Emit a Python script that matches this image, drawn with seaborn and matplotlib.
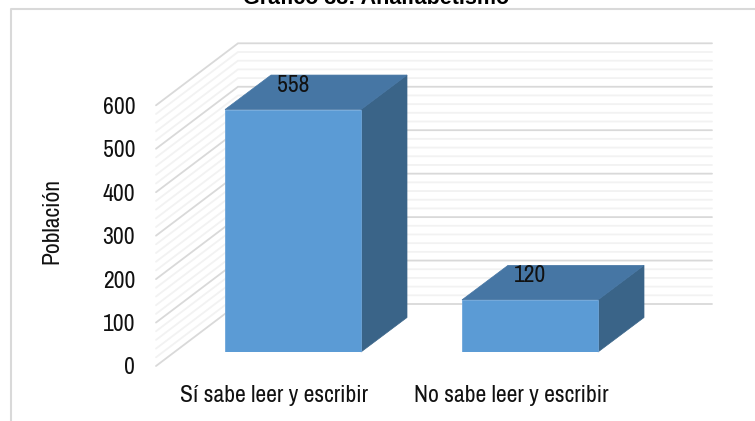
import matplotlib
matplotlib.use("Agg")
import matplotlib.pyplot as plt
from matplotlib import font_manager as fm
from matplotlib.lines import Line2D
from matplotlib.patches import Polygon
import pandas as pd
import seaborn as sns

categories = ["Sí sabe leer y escribir", "No sabe leer y escribir"]
values = [558, 120]
ticks = [0, 100, 200, 300, 400, 500, 600]
minor_ticks = [v for v in range(0, 601, 20)]
title = "Gráfico 38: Analfabetismo"
ylabel = "Población"

W, H = 755, 421
sns.set_theme(style="white")
names = {f.name for f in fm.fontManager.ttflist}
NARROW = [n for n in ("Archivo Narrow", "Liberation Sans Narrow", "Liberation Sans") if n in names]
plt.rcParams["font.family"] = NARROW + ["DejaVu Sans"]
FS = 17 if NARROW[0] != "Liberation Sans" else 14.5

FRONT, TOP, SIDE = "#5B9BD5", "#4676A4", "#3A6488"
MAJOR, MINOR = "#D9D9D9", "#F2F2F2"

fig = plt.figure(figsize=(W / 100, H / 100), dpi=100, facecolor="white")

def make_axes(left, right, base_y, top_y):
    return fig.add_axes([left / W, 1 - base_y / H, (right - left) / W, (base_y - top_y) / H])

PX = 0.4345  # pixels per unit
wall = make_axes(156, 630, 366, 366 - 600 * PX)
bars = make_axes(174.5, 648.5, 352, 352 - 600 * PX)

df = pd.DataFrame({"cat": categories, "val": values})
for a in (wall, bars):
    a.set_xlim(-0.5, 1.5)
    a.set_ylim(0, 600)
    a.patch.set_alpha(0)
    sns.despine(ax=a, left=True, bottom=True)

# axis labels on the front plane
wall.set_xticks([0, 1], categories, fontsize=FS, color="#111111")
wall.set_yticks(ticks, [str(t) for t in ticks], fontsize=FS, color="#111111")
wall.tick_params(axis="both", length=0)
wall.tick_params(axis="y", pad=15)
wall.tick_params(axis="x", pad=14)
wall.set_ylabel(ylabel, fontsize=FS, color="#111111", labelpad=0)
wall.yaxis.set_label_coords((62 - 156) / 474, (366 - 221) / (600 * PX))

# 3D walls: depth offset expressed in data units of the wall axes
DX = 82 / 237
DY = 62 / PX
for v in minor_ticks:
    is_major = v % 100 == 0
    c, lw, z = (MAJOR, 1.3, 2) if is_major else (MINOR, 1.3, 1)
    wall.plot([-0.5, -0.5 + DX, 1.5 + DX], [v, v + DY, v + DY], color=c, lw=lw,
              zorder=z, clip_on=False, solid_joinstyle="miter")

# bars
sns.barplot(data=df, x="cat", y="val", ax=bars, color=FRONT, saturation=1,
            width=136 / 237, linewidth=0.6, edgecolor="#6FA6DA", zorder=3)
bars.set_xlim(-0.5, 1.5)
bars.set_ylim(0, 600)
bars.set_xlabel("")
bars.set_ylabel("")
bars.set_xticks([])
bars.set_yticks([])
wall.set_xlabel("")

BW = 136 / 237 / 2
BX = 46 / 237
BY = 34.5 / PX
for i, v in enumerate(values):
    l, r = i - BW, i + BW
    bars.add_patch(Polygon([(r, 0), (r + BX, BY), (r + BX, v + BY), (r, v)],
                           closed=True, fc=SIDE, ec=SIDE, lw=0.5, clip_on=False, zorder=2))
    bars.add_patch(Polygon([(l, v), (l + BX, v + BY), (r + BX, v + BY), (r, v)],
                           closed=True, fc=TOP, ec=TOP, lw=0.5, clip_on=False, zorder=2))
    bars.annotate(str(v), (i, v), xytext=(0, 24 * 0.72), textcoords="offset points",
                  ha="center", va="center", fontsize=FS, color="#111111",
                  annotation_clip=False, zorder=5)

# chart frame, continuing past the right and bottom image edges
fig.add_artist(Line2D([11 / W, 11 / W, 1], [0, 1 - 8.5 / H, 1 - 8.5 / H],
                      color=MAJOR, lw=1.5, transform=fig.transFigure))
fig.text(376 / W, 1 - 4 / H, title, ha="center", va="baseline",
         fontsize=15.5, fontweight="bold", family=["Liberation Sans", "DejaVu Sans"], color="#000000")

fig.savefig("out.png", dpi=100)
